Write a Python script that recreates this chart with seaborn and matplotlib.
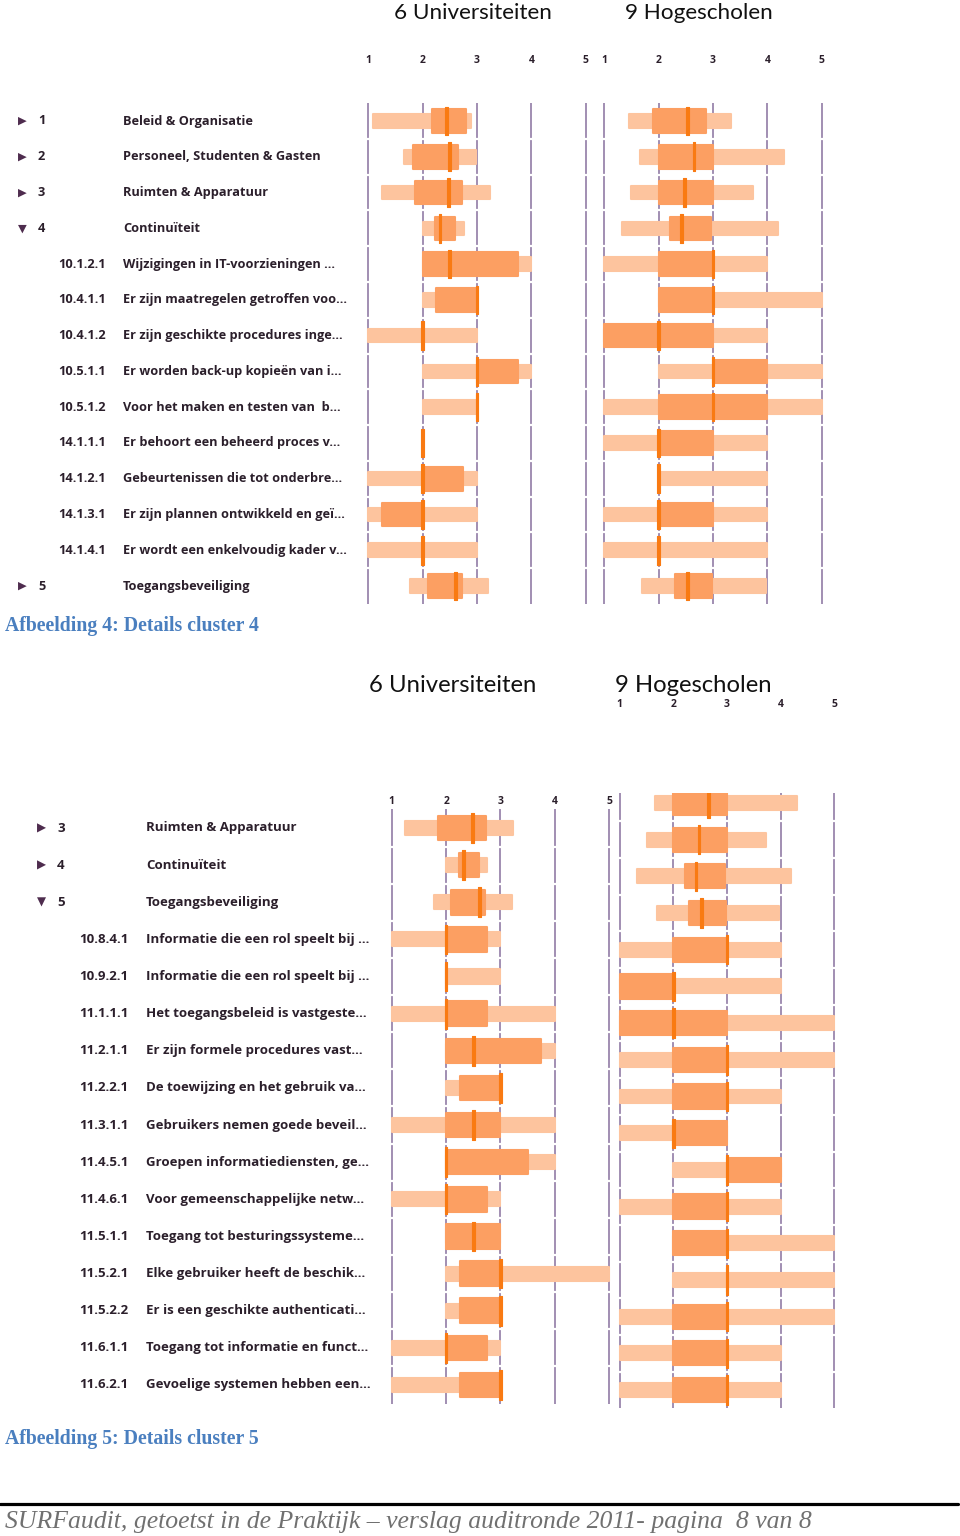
import matplotlib
matplotlib.use('Agg')
import matplotlib.pyplot as plt
import seaborn as sns
import numpy as np

# ---- cluster 4 (top figure) ----
c4_marks = ['▶', '▶', '▶', '▼', '', '', '', '', '', '', '', '', '', '▶']
c4_codes = ['1', '2', '3', '4', '10.1.2.1', '10.4.1.1', '10.4.1.2', '10.5.1.1',
            '10.5.1.2', '14.1.1.1', '14.1.2.1', '14.1.3.1', '14.1.4.1', '5']
c4_labels = ['Beleid & Organisatie', 'Personeel, Studenten & Gasten',
             'Ruimten & Apparatuur', 'Continuïteit',
             'Wijzigingen in IT-voorzieningen ...',
             'Er zijn maatregelen getroffen voo...',
             'Er zijn geschikte procedures inge...',
             'Er worden back-up kopieën van i...',
             'Voor het maken en testen van  b...',
             'Er behoort een beheerd proces v...',
             'Gebeurtenissen die tot onderbre...',
             'Er zijn plannen ontwikkeld en geï...',
             'Er wordt een enkelvoudig kader v...',
             'Toegangsbeveiliging']

uni4_min = [1.09, 1.66, 1.25, 2.0, 2.0, 2.0, 1.0, 2.0, 2.0, 2.0, 1.0, 1.0, 1.0, 1.77]
uni4_q1 = [2.18, 1.83, 1.86, 2.23, 2.0, 2.25, 2.0, 3.0, 3.0, 2.0, 2.0, 1.25, 2.0, 2.09]
uni4_med = [2.44, 2.49, 2.48, 2.32, 2.5, 3.0, 2.0, 3.0, 3.0, 2.0, 2.0, 2.0, 2.0, 2.61]
uni4_q3 = [2.79, 2.65, 2.73, 2.6, 3.75, 3.0, 2.0, 3.75, 3.0, 2.0, 2.75, 2.0, 2.0, 2.72]
uni4_max = [2.89, 2.98, 3.23, 2.76, 4.0, 3.0, 3.0, 4.0, 3.0, 2.0, 3.0, 3.0, 3.0, 3.21]

hog4_min = [1.45, 1.66, 1.5, 1.33, 1.0, 2.0, 1.0, 2.0, 1.0, 1.0, 2.0, 1.0, 1.0, 1.69]
hog4_q1 = [1.9, 2.0, 2.0, 2.21, 2.0, 2.0, 1.0, 3.0, 2.0, 2.0, 2.0, 2.0, 2.0, 2.3]
hog4_med = [2.53, 2.65, 2.48, 2.42, 3.0, 3.0, 2.0, 3.0, 3.0, 2.0, 2.0, 2.0, 2.0, 2.53]
hog4_q3 = [2.88, 3.0, 3.0, 2.97, 3.0, 3.0, 3.0, 4.0, 4.0, 3.0, 2.0, 3.0, 2.0, 2.99]
hog4_max = [3.34, 4.31, 3.73, 4.2, 4.0, 5.0, 4.0, 5.0, 5.0, 4.0, 4.0, 4.0, 4.0, 3.97]

# ---- cluster 5 (bottom figure) ----
c5_marks = ['▶', '▶', '▼'] + [''] * 13
c5_codes = ['3', '4', '5', '10.8.4.1', '10.9.2.1', '11.1.1.1', '11.2.1.1', '11.2.2.1',
            '11.3.1.1', '11.4.5.1', '11.4.6.1', '11.5.1.1', '11.5.2.1', '11.5.2.2',
            '11.6.1.1', '11.6.2.1']
c5_labels = ['Ruimten & Apparatuur', 'Continuïteit', 'Toegangsbeveiliging',
             'Informatie die een rol speelt bij ...',
             'Informatie die een rol speelt bij ...',
             'Het toegangsbeleid is vastgeste...',
             'Er zijn formele procedures vast...',
             'De toewijzing en het gebruik va...',
             'Gebruikers nemen goede beveil...',
             'Groepen informatiediensten, ge...',
             'Voor gemeenschappelijke netw...',
             'Toegang tot besturingssysteme...',
             'Elke gebruiker heeft de beschik...',
             'Er is een geschikte authenticati...',
             'Toegang tot informatie en funct...',
             'Gevoelige systemen hebben een...']

uni5_min = [1.25, 2.0, 1.77, 1.0, 2.0, 1.0, 2.0, 2.0, 1.0, 2.0, 1.0, 2.0, 2.0, 2.0, 1.0, 1.0]
uni5_q1 = [1.86, 2.23, 2.09, 2.0, 2.0, 2.0, 2.0, 2.25, 2.0, 2.0, 2.0, 2.0, 2.25, 2.25, 2.0, 2.25]
uni5_med = [2.48, 2.32, 2.61, 2.0, 2.0, 2.0, 2.5, 3.0, 2.5, 2.0, 2.0, 2.5, 3.0, 3.0, 2.0, 3.0]
uni5_q3 = [2.73, 2.6, 2.72, 2.75, 2.0, 2.75, 3.75, 3.0, 3.0, 3.5, 2.75, 3.0, 3.0, 3.0, 2.75, 3.0]
uni5_max = [3.23, 2.76, 3.21, 3.0, 3.0, 4.0, 4.0, 3.0, 4.0, 4.0, 3.0, 3.0, 5.0, 3.0, 3.0, 3.0]

# the hogescholen screenshot has one extra row (cluster 2) on top
hog5_min = [1.66, 1.5, 1.33, 1.69, 1.0, 1.0, 1.0, 1.0, 1.0, 1.0, 2.0, 1.0, 2.0, 2.0, 1.0, 1.0, 1.0]
hog5_q1 = [2.0, 2.0, 2.21, 2.3, 2.0, 1.0, 1.0, 2.0, 2.0, 2.0, 3.0, 2.0, 2.0, 3.0, 2.0, 2.0, 2.0]
hog5_med = [2.65, 2.48, 2.42, 2.53, 3.0, 2.0, 2.0, 3.0, 3.0, 2.0, 3.0, 3.0, 3.0, 3.0, 3.0, 3.0, 3.0]
hog5_q3 = [3.0, 3.0, 2.97, 2.99, 3.0, 2.0, 3.0, 3.0, 3.0, 3.0, 4.0, 3.0, 3.0, 3.0, 3.0, 3.0, 3.0]
hog5_max = [4.31, 3.73, 4.2, 3.97, 4.0, 4.0, 5.0, 5.0, 4.0, 3.0, 4.0, 4.0, 5.0, 5.0, 5.0, 4.0, 4.0]

scale_ticks = [1, 2, 3, 4, 5]

LIGHT = '#fdc49e'
DARK = '#fc9f62'
MEDIAN = '#f97a12'
GRID = '#9a86ad'
TEXT = '#2b1f2b'
MARK = '#4e2c4e'

W, H = 960, 1536

sns.set_theme(style='white')
plt.rcParams['font.family'] = ['Open Sans', 'DejaVu Sans']

fig = plt.figure(figsize=(W / 100, H / 100), dpi=100)


def fx(x):
    return x / W


def fy(y):
    return 1 - y / H


def panel(x1, x5, y0, pitch, mins, q1s, meds, q3s, maxs, tick_pad, top_cut=0.5):
    n = len(mins)
    ppu = (x5 - x1) / 4
    m = 0.12
    top = y0 - top_cut * pitch
    bot = y0 + (n - 0.5) * pitch
    left = x1 - m * ppu
    ax = fig.add_axes([fx(left), fy(bot), (4 + 2 * m) * ppu / W, (bot - top) / H])
    ax.set_facecolor('none')
    ax.set_xlim(1 - m, 5 + m)
    ax.set_ylim(n - 0.5, -top_cut)

    y = np.arange(n)
    mins, q1s, meds, q3s, maxs = map(np.array, (mins, q1s, meds, q3s, maxs))

    ax.vlines(scale_ticks, -top_cut, n - 0.5, color=GRID, lw=1.3, zorder=1)
    ax.hlines(y[:-1] + 0.5, 1 - m, 5 + m, color='white', lw=1.6, zorder=1.5)

    ax.barh(y, maxs - mins, left=mins, height=0.38, color=LIGHT,
            edgecolor=LIGHT, lw=1.5, joinstyle='round', zorder=2)
    ax.barh(y, q3s - q1s, left=q1s, height=0.66, color=DARK,
            edgecolor=DARK, lw=1.5, joinstyle='round', zorder=3)
    ax.barh(y, 0.05, left=meds - 0.025, height=0.8, color=MEDIAN,
            edgecolor=MEDIAN, lw=0.8, joinstyle='round', zorder=4)

    ax.set_xticks(scale_ticks)
    ax.xaxis.tick_top()
    ax.tick_params(axis='x', length=0, pad=tick_pad, labelsize=7.5, labelcolor=TEXT)
    for t in ax.get_xticklabels():
        t.set_fontweight('bold')
    ax.set_yticks([])
    sns.despine(ax=ax, left=True, bottom=True, top=True, right=True)
    return ax


def row_labels(y0, pitch, marks, codes, labels, x_mark, x_num, x_code, x_text, size):
    for i, (mk, cd, lb) in enumerate(zip(marks, codes, labels)):
        yy = fy(y0 + i * pitch)
        if mk:
            fig.text(fx(x_mark), yy, mk, ha='center', va='center', fontsize=size - 1,
                     color=MARK, family='DejaVu Sans')
            fig.text(fx(x_num), yy, cd, ha='left', va='center', fontsize=size,
                     color=TEXT, fontweight='bold')
        else:
            fig.text(fx(x_code), yy, cd, ha='left', va='center', fontsize=size,
                     color=TEXT, fontweight='bold')
        fig.text(fx(x_text), yy, lb, ha='left', va='center', fontsize=size,
                 color=TEXT, fontweight='bold')


# top figure: details cluster 4
fig.text(fx(394), fy(13), '6 Universiteiten', ha='left', va='center',
         fontsize=16.2, color='#111111', family='Lato')
fig.text(fx(625), fy(13), '9 Hogescholen', ha='left', va='center',
         fontsize=16.2, color='#111111', family='Lato')
panel(368.3, 585.7, 121, 35.77, uni4_min, uni4_q1, uni4_med, uni4_q3, uni4_max, tick_pad=27)
panel(604.3, 821.7, 121, 35.77, hog4_min, hog4_q1, hog4_med, hog4_q3, hog4_max, tick_pad=27)
row_labels(121, 35.77, c4_marks, c4_codes, c4_labels, 22, 38, 58, 123, 9.2)

fig.text(fx(5), fy(626), 'Afbeelding 4: Details cluster 4', ha='left', va='center',
         fontsize=14.2, color='#4a7fbf', fontweight='bold', family='Liberation Serif')

# bottom figure: details cluster 5
fig.text(fx(369), fy(686), '6 Universiteiten', ha='left', va='center',
         fontsize=17.2, color='#111111', family='Lato')
fig.text(fx(615), fy(686), '9 Hogescholen', ha='left', va='center',
         fontsize=17.2, color='#111111', family='Lato')
panel(391.7, 609.3, 828, 37.13, uni5_min, uni5_q1, uni5_med, uni5_q3, uni5_max, tick_pad=1.5)
panel(619.7, 834.3, 803, 36.69, hog5_min, hog5_q1, hog5_med, hog5_q3, hog5_max,
      tick_pad=60, top_cut=0.27)
row_labels(828, 37.13, c5_marks, c5_codes, c5_labels, 41, 57, 79, 146, 9.5)

fig.text(fx(5), fy(1439), 'Afbeelding 5: Details cluster 5', ha='left', va='center',
         fontsize=14.2, color='#4a7fbf', fontweight='bold', family='Liberation Serif')

# page footer
fig.add_artist(plt.Line2D([0, fx(958)], [fy(1504), fy(1504)], color='black', lw=2.3))
fig.text(fx(5), fy(1522), 'SURFaudit, getoetst in de Praktijk \u2013 verslag auditronde 2011- pagina  8 van 8',
         ha='left', va='center', fontsize=18.5, color='#707070', style='italic',
         family='Liberation Serif')

fig.savefig('out.png', dpi=100, facecolor='white')
plt.close(fig)
